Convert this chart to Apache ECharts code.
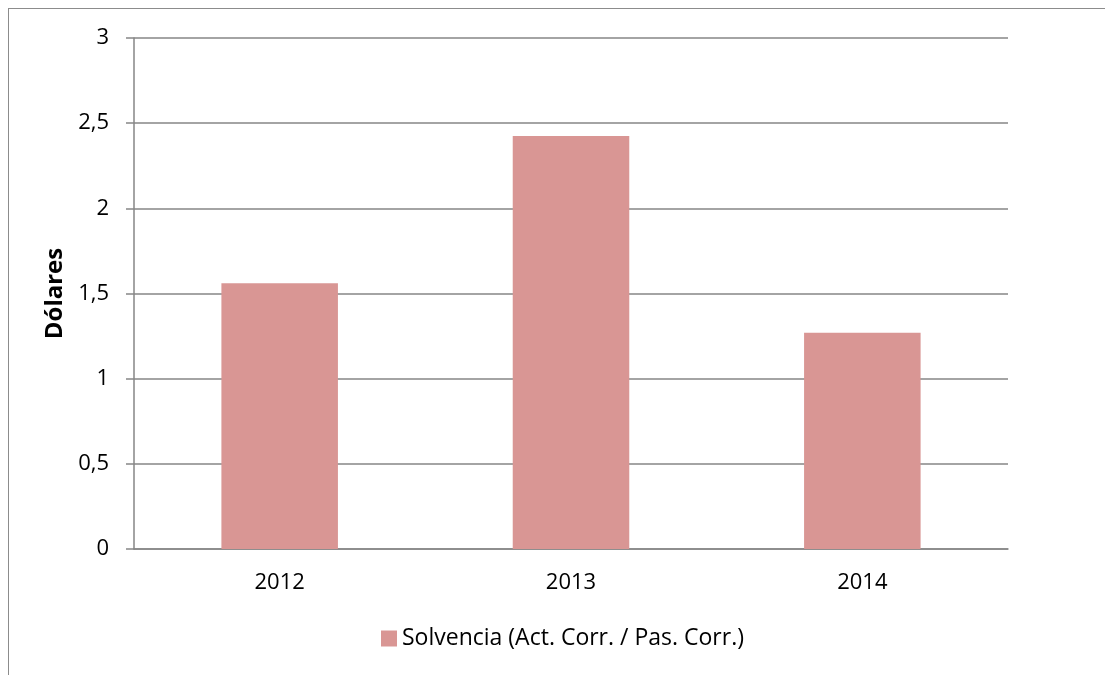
<!DOCTYPE html>
<html><head><meta charset="utf-8">
<script src="https://cdn.jsdelivr.net/npm/echarts@6/dist/echarts.min.js"></script>
<style>
html,body{margin:0;padding:0;background:#fff;}
#frame{position:absolute;left:8px;top:8px;width:1200px;height:800px;border-top:1.5px solid #8c8c8c;border-left:1.5px solid #8c8c8c;}
#c{position:absolute;left:0;top:0;width:1105px;height:675px;}
</style></head>
<body>
<div id="frame"></div>
<div id="c"></div>
<script>
const categories = ['2012', '2013', '2014'];
const seriesName = 'Solvencia (Act. Corr. / Pas. Corr.)';
const values = [1.56, 2.425, 1.27];
const yAxisTitle = 'Dólares';

const chart = echarts.init(document.getElementById('c'));
const font = 'Open Sans, Noto Sans, sans-serif';
chart.setOption({
  animation: false,
  grid: {left: 134, right: 97, top: 38, bottom: 126},
  legend: {
    data: [seriesName], bottom: 20, left: 376,
    itemWidth: 16, itemHeight: 16, icon: 'rect', itemGap: 6,
    textStyle: {fontFamily: font, fontSize: 23, color: '#000'}
  },
  xAxis: {
    type: 'category', data: categories,
    axisLine: {lineStyle: {color: '#868686', width: 1.5}},
    axisTick: {show: false},
    axisLabel: {fontFamily: font, fontSize: 22, color: '#000', margin: 23}
  },
  yAxis: {
    type: 'value', min: 0, max: 3, interval: 0.5,
    name: yAxisTitle, nameLocation: 'middle', nameGap: 66, nameRotate: 90,
    nameTextStyle: {fontFamily: font, fontSize: 24, fontWeight: 'bold', color: '#000'},
    axisLine: {show: true, lineStyle: {color: '#868686', width: 1.5}},
    axisTick: {show: true, length: 8, lineStyle: {color: '#868686', width: 1.5}},
    splitLine: {lineStyle: {color: '#868686', width: 1.5}},
    axisLabel: {fontFamily: font, fontSize: 22, color: '#000', margin: 25,
      formatter: v => String(v).replace('.', ',')}
  },
  series: [{
    name: seriesName, type: 'bar', data: values, barWidth: '40%',
    itemStyle: {color: '#D99694'}
  }]
});
</script>
</body></html>
